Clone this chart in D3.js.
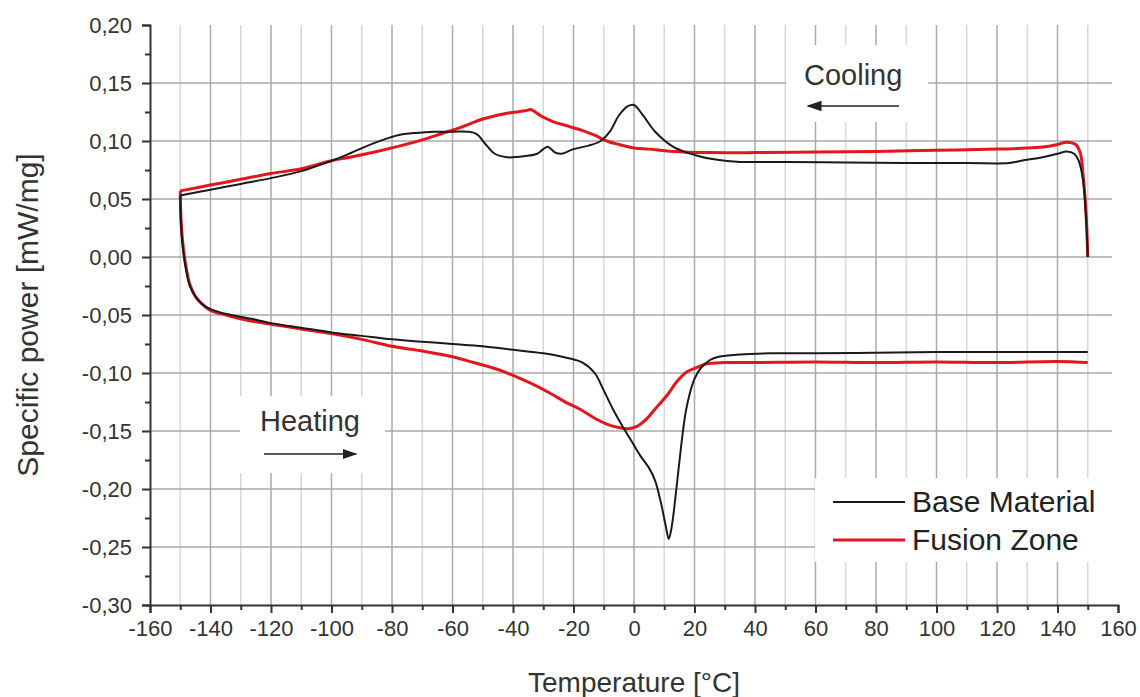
<!DOCTYPE html>
<html>
<head>
<meta charset="utf-8">
<script src="https://cdn.jsdelivr.net/npm/d3@7"></script>
<style>
  body { margin: 0; background: #fff; }
  svg { font-family: "Liberation Sans", Arial, sans-serif; }
</style>
</head>
<body>
<svg id="chart" width="1140" height="697"></svg>
<script>
// DSC curves, [temperature °C, specific power mW/mg]
const baseCooling = [
  [150, 0.000], [149.5, 0.030], [148.5, 0.065], [147, 0.083], [145.5, 0.089], [143, 0.091],
  [140, 0.089], [135, 0.086], [128, 0.083], [124, 0.081], [110, 0.081], [90, 0.081],
  [70, 0.0815], [50, 0.082], [35, 0.082], [27, 0.084], [20, 0.088], [13, 0.095], [7, 0.108],
  [3, 0.122], [0, 0.131], [-2, 0.130], [-5, 0.122], [-8, 0.108], [-11, 0.100], [-15, 0.096],
  [-20, 0.093], [-24, 0.089], [-26, 0.090], [-28.5, 0.095], [-30, 0.093], [-32, 0.089],
  [-36, 0.087], [-42, 0.086], [-46, 0.089], [-49, 0.097], [-52, 0.106], [-55, 0.108],
  [-60, 0.108], [-66, 0.108], [-72, 0.107], [-78, 0.105], [-83, 0.101], [-89, 0.095],
  [-95, 0.088], [-100, 0.083], [-110, 0.074], [-120, 0.068], [-130, 0.063], [-140, 0.058],
  [-150, 0.053]
];
const baseHeating = [
  [-150, 0.053], [-149.7, 0.025], [-149, 0.005], [-148, -0.012], [-146.8, -0.025],
  [-145, -0.034], [-143, -0.040], [-140, -0.045], [-135, -0.049], [-127, -0.053],
  [-120, -0.057], [-110, -0.061], [-100, -0.065], [-90, -0.068], [-80, -0.071], [-70, -0.073],
  [-60, -0.075], [-50, -0.077], [-40, -0.080], [-30, -0.083], [-22, -0.087], [-17, -0.091],
  [-13, -0.100], [-10, -0.115], [-7, -0.131], [-4, -0.145], [-1, -0.158], [2, -0.171],
  [5, -0.182], [7, -0.193], [9, -0.213], [10.5, -0.232], [11.5, -0.243], [12.5, -0.232],
  [14, -0.200], [15.5, -0.165], [17, -0.135], [18.5, -0.117], [20, -0.105], [22, -0.096],
  [25, -0.089], [28, -0.086], [35, -0.084], [45, -0.083], [60, -0.083], [80, -0.0825],
  [100, -0.082], [120, -0.082], [140, -0.082], [150, -0.082]
];
const fusionCooling = [
  [150, 0.000], [149.5, 0.035], [148.5, 0.070], [147.5, 0.090], [146, 0.097], [143, 0.099],
  [140, 0.097], [136, 0.095], [130, 0.094], [120, 0.093], [100, 0.092], [80, 0.091],
  [60, 0.0905], [40, 0.090], [25, 0.090], [13, 0.091], [5, 0.093], [0, 0.094], [-5, 0.097],
  [-9, 0.100], [-13, 0.105], [-17, 0.109], [-22, 0.113], [-27, 0.117], [-31, 0.122],
  [-34, 0.127], [-36, 0.126], [-42, 0.124], [-50, 0.119], [-57, 0.112], [-64, 0.106],
  [-70, 0.101], [-77, 0.096], [-85, 0.091], [-94, 0.086], [-100, 0.083], [-110, 0.076],
  [-120, 0.072], [-130, 0.067], [-140, 0.062], [-150, 0.057]
];
const fusionHeating = [
  [-150, 0.057], [-149.7, 0.030], [-149, 0.008], [-148, -0.010], [-146.8, -0.024],
  [-145, -0.034], [-143, -0.040], [-140, -0.046], [-135, -0.050], [-127, -0.055],
  [-120, -0.058], [-110, -0.062], [-100, -0.066], [-90, -0.071], [-80, -0.077], [-70, -0.081],
  [-60, -0.086], [-53, -0.091], [-45, -0.097], [-40, -0.102], [-34, -0.109], [-28, -0.117],
  [-22, -0.126], [-18, -0.131], [-13, -0.139], [-9, -0.144], [-5, -0.147], [-2, -0.148],
  [1, -0.146], [4, -0.140], [7, -0.131], [11, -0.119], [14, -0.108], [17.5, -0.099],
  [21, -0.095], [24, -0.092], [30, -0.091], [40, -0.091], [60, -0.0905], [80, -0.091],
  [100, -0.0905], [120, -0.091], [140, -0.090], [150, -0.091]
];

const xTicks = d3.range(-160, 161, 20);
const yTicks = d3.range(-0.30, 0.2001, 0.05);
const seriesNames = ["Base Material", "Fusion Zone"];
const seriesColors = ["#1a1a1a", "#e3161c"];

const svg = d3.select("#chart");
const margin = { top: 25, right: 22, bottom: 92, left: 150 };
const width = 1140, height = 697;

const x = d3.scaleLinear().domain([-160, 160]).range([margin.left, width - margin.right]);
const y = d3.scaleLinear().domain([-0.30, 0.20]).range([height - margin.bottom, margin.top]);

const fmt = v => d3.format(".2f")(v).replace(".", ",").replace("−", "-");

// grid
const grid = svg.append("g");
d3.range(-150, 151, 10).forEach(t => {
  grid.append("line")
    .attr("x1", x(t)).attr("x2", x(t))
    .attr("y1", y(0.20)).attr("y2", y(-0.30))
    .attr("stroke", t % 20 === 0 ? "#aaaaaa" : "#d8d8d8")
    .attr("stroke-width", 1.5);
});
yTicks.filter(v => v > -0.299 && v < 0.199).forEach(v => {
  grid.append("line")
    .attr("x1", x(-160)).attr("x2", x(158))
    .attr("y1", y(v)).attr("y2", y(v))
    .attr("stroke", "#a8a8a8")
    .attr("stroke-width", 1.5);
});

// white boxes behind annotations and legend
svg.append("rect").attr("x", 786).attr("y", 45).attr("width", 142).attr("height", 77).attr("fill", "#fff");
svg.append("rect").attr("x", 240).attr("y", 396).attr("width", 145).attr("height", 77).attr("fill", "#fff");
svg.append("rect").attr("x", 815).attr("y", 478).attr("width", 303).attr("height", 84).attr("fill", "#fff");

// curves: cooling and heating runs drawn as separate paths so the turn points stay sharp
const line = d3.line()
  .x(d => x(d[0]))
  .y(d => y(d[1]))
  .curve(d3.curveCatmullRom.alpha(0.5));

const curves = [
  { data: fusionCooling, color: seriesColors[1], w: 3 },
  { data: fusionHeating, color: seriesColors[1], w: 3 },
  { data: baseCooling, color: seriesColors[0], w: 2 },
  { data: baseHeating, color: seriesColors[0], w: 2 }
];
curves.forEach(c => {
  svg.append("path")
    .datum(c.data)
    .attr("fill", "none")
    .attr("stroke", c.color)
    .attr("stroke-width", c.w)
    .attr("stroke-linejoin", "round")
    .attr("d", line);
});

// axes
const xAxis = svg.append("g")
  .attr("transform", `translate(0, ${y(-0.30)})`)
  .call(d3.axisBottom(x).tickValues(xTicks).tickSize(8).tickPadding(7).tickFormat(d3.format("d")));
svg.append("g")
  .attr("transform", `translate(0, ${y(-0.30)})`)
  .call(d3.axisBottom(x).tickValues(d3.range(-150, 151, 20)).tickSize(5).tickFormat(""))
  .select(".domain").remove();

const yAxis = svg.append("g")
  .attr("transform", `translate(${x(-160)}, 0)`)
  .call(d3.axisLeft(y).tickValues(yTicks).tickSize(8).tickPadding(10).tickFormat(fmt));
svg.append("g")
  .attr("transform", `translate(${x(-160)}, 0)`)
  .call(d3.axisLeft(y).tickValues(d3.range(-0.275, 0.2, 0.05)).tickSize(5).tickFormat(""))
  .select(".domain").remove();

svg.selectAll(".domain, .tick line").attr("stroke", "#333").attr("stroke-width", 2);
svg.selectAll(".tick text")
  .attr("fill", "#333")
  .attr("font-size", 22)
  .attr("font-family", "Liberation Sans, Arial, sans-serif");
xAxis.selectAll(".tick text").text(d => String(d).replace("−", "-"));

// axis titles
svg.append("text")
  .attr("x", x(0)).attr("y", 692)
  .attr("text-anchor", "middle")
  .attr("font-size", 28)
  .attr("fill", "#333")
  .text("Temperature [°C]");
svg.append("text")
  .attr("transform", `translate(38, ${y(-0.05)}) rotate(-90)`)
  .attr("text-anchor", "middle")
  .attr("font-size", 30)
  .attr("fill", "#333")
  .text("Specific power [mW/mg]");

// arrows
svg.append("defs").append("marker")
  .attr("id", "head")
  .attr("viewBox", "0 0 10 10")
  .attr("refX", 9).attr("refY", 5)
  .attr("markerWidth", 15).attr("markerHeight", 15)
  .attr("markerUnits", "userSpaceOnUse")
  .attr("orient", "auto")
  .append("path").attr("d", "M0,1.5 L10,5 L0,8.5 Z").attr("fill", "#222");

svg.append("text").attr("x", 804).attr("y", 85)
  .attr("font-size", 29).attr("fill", "#333").text("Cooling");
svg.append("line").attr("x1", 899).attr("y1", 106).attr("x2", 808).attr("y2", 106)
  .attr("stroke", "#222").attr("stroke-width", 1.5).attr("marker-end", "url(#head)");

svg.append("text").attr("x", 260).attr("y", 431)
  .attr("font-size", 29).attr("fill", "#333").text("Heating");
svg.append("line").attr("x1", 264).attr("y1", 454).attr("x2", 356).attr("y2", 454)
  .attr("stroke", "#222").attr("stroke-width", 1.5).attr("marker-end", "url(#head)");

// legend
const legend = svg.append("g").attr("transform", "translate(833, 502)");
seriesNames.forEach((name, i) => {
  const g = legend.append("g").attr("transform", `translate(0, ${i * 38})`);
  g.append("line").attr("x1", 0).attr("x2", 72).attr("y1", 0).attr("y2", 0)
    .attr("stroke", seriesColors[i]).attr("stroke-width", i === 0 ? 2 : 3);
  g.append("text").attr("x", 79).attr("y", 10)
    .attr("font-size", 30).attr("fill", "#222").text(name);
});
</script>
</body>
</html>
